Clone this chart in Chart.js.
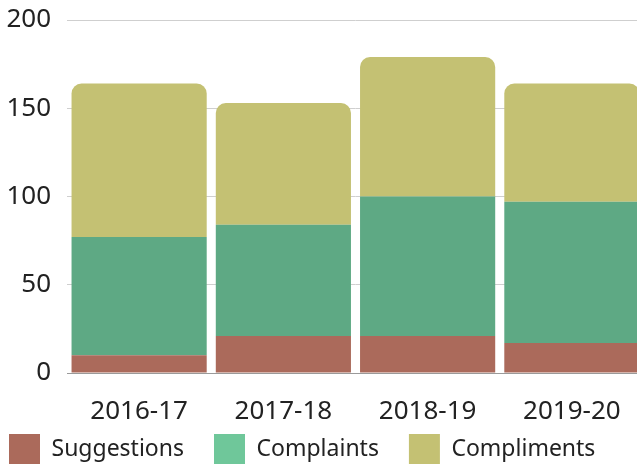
<!DOCTYPE html>
<html>
<head>
<meta charset="utf-8">
<script src="https://cdn.jsdelivr.net/npm/chart.js@4"></script>
<style>
    body { margin: 0; background: #fff; }
    #wrap { position: relative; width: 637px; height: 464px; overflow: hidden; }
    #chart { position: absolute; left: -21px; top: 0; }
</style>
</head>
<body>
<div id="wrap"><canvas id="chart" width="675" height="475"></canvas></div>
<script>
// data
const years = ['2016-17', '2017-18', '2018-19', '2019-20'];
const suggestions = [10, 21, 21, 17];
const complaints = [67, 63, 79, 80];
const compliments = [87, 69, 79, 67];

// y axis range
const yMin = 0;
const yMax = 200;
const yStep = 50;

const barColors = ['#ab6a5b', '#5ea984', '#c4c173'];
const legendColors = ['#ab6a5b', '#6fc79a', '#c4c173'];

Chart.defaults.font.family = '"Noto Sans", "Open Sans", sans-serif';
Chart.defaults.color = '#222';

// x labels hang below the squeezed x axis, so widen its clip box after layout
const unclipXLabels = {
    id: 'unclipXLabels',
    afterLayout(chart) {
        const x = chart.scales.x;
        x.bottom = x.top + 48;
    }
};

const ctx = document.getElementById('chart');

window.myChartInstance = new Chart(ctx, {
    type: 'bar',
    data: {
        labels: years,
        datasets: [{
            label: 'Suggestions',
            data: suggestions,
            backgroundColor: barColors[0],
            borderWidth: 0
        }, {
            label: 'Complaints',
            data: complaints,
            backgroundColor: barColors[1],
            borderWidth: 0
        }, {
            label: 'Compliments',
            data: compliments,
            backgroundColor: barColors[2],
            borderWidth: 0,
            borderRadius: 10
        }]
    },
    options: {
        responsive: false,
        animation: false,
        devicePixelRatio: 1,
        categoryPercentage: 1,
        barPercentage: 0.937,
        layout: {
            padding: { top: 20, right: 10, bottom: 0, left: 0 }
        },
        scales: {
            x: {
                stacked: true,
                grid: { display: false },
                border: { display: true, color: '#9a9a9a', width: 1 },
                ticks: { font: { size: 26 }, padding: 15 },
                afterFit: (scale) => { scale.height = 31; }
            },
            y: {
                stacked: true,
                min: yMin,
                max: yMax,
                border: { display: false },
                grid: { color: '#cfcfcf', drawTicks: false },
                ticks: { stepSize: yStep, font: { size: 26 }, padding: 16 },
                afterFit: (scale) => {
                    scale.width = 88;
                    scale.paddingTop = 0;
                    scale.paddingBottom = 0;
                }
            }
        },
        plugins: {
            legend: {
                position: 'bottom',
                align: 'start',
                labels: {
                    boxWidth: 31,
                    boxHeight: 31,
                    padding: 30,
                    font: { size: 23 },
                    generateLabels: (chart) => {
                        const items = Chart.defaults.plugins.legend.labels.generateLabels(chart);
                        items.forEach((item, i) => {
                            item.fillStyle = legendColors[i];
                            item.lineWidth = 0;
                        });
                        return items;
                    }
                }
            },
            tooltip: { enabled: false }
        }
    },
    plugins: [unclipXLabels]
});
</script>
</body>
</html>
